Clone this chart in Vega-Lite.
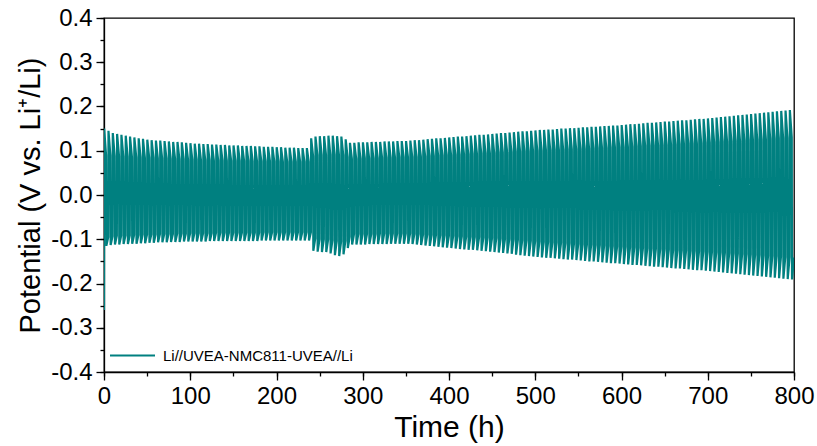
{
"$schema": "https://vega.github.io/schema/vega-lite/v6.json",
"width": 690,
"height": 354,
"autosize": "none",
"padding": {"left": 104, "top": 18, "right": 23, "bottom": 74},
"background": "white",
"config": {
  "font": "Liberation Sans",
  "view": {"stroke": "#000", "strokeWidth": 1.3},
  "axis": {"labelFont": "Liberation Sans", "titleFont": "Liberation Sans", "labelColor": "#000", "titleColor": "#000", "domainColor": "#000", "tickColor": "#000", "grid": false, "titleFontWeight": "normal", "domainWidth": 1.3, "tickWidth": 1.3}
},
"datasets": {
"pot": [
{"t":0,"v":-0.26},
{"t":0.2,"v":0.150},{"t":2.4,"v":0.090},{"t":2.7,"v":-0.115},{"t":4.9,"v":-0.095},
{"t":5.2,"v":0.145},{"t":7.4,"v":0.089},{"t":7.7,"v":-0.113},{"t":9.9,"v":-0.093},
{"t":10.2,"v":0.140},{"t":12.4,"v":0.088},{"t":12.7,"v":-0.112},{"t":14.9,"v":-0.092},
{"t":15.2,"v":0.138},{"t":17.4,"v":0.088},{"t":17.7,"v":-0.112},{"t":19.9,"v":-0.092},
{"t":20.2,"v":0.136},{"t":22.4,"v":0.087},{"t":22.7,"v":-0.111},{"t":24.9,"v":-0.091},
{"t":25.2,"v":0.134},{"t":27.4,"v":0.087},{"t":27.7,"v":-0.111},{"t":29.9,"v":-0.091},
{"t":30.2,"v":0.132},{"t":32.4,"v":0.086},{"t":32.7,"v":-0.110},{"t":34.9,"v":-0.090},
{"t":35.2,"v":0.130},{"t":37.4,"v":0.085},{"t":37.7,"v":-0.110},{"t":39.9,"v":-0.090},
{"t":40.2,"v":0.128},{"t":42.4,"v":0.085},{"t":42.7,"v":-0.109},{"t":44.9,"v":-0.089},
{"t":45.2,"v":0.127},{"t":47.4,"v":0.084},{"t":47.7,"v":-0.109},{"t":49.9,"v":-0.089},
{"t":50.2,"v":0.125},{"t":52.4,"v":0.084},{"t":52.7,"v":-0.108},{"t":54.9,"v":-0.089},
{"t":55.2,"v":0.124},{"t":57.4,"v":0.084},{"t":57.7,"v":-0.108},{"t":59.9,"v":-0.089},
{"t":60.2,"v":0.123},{"t":62.4,"v":0.083},{"t":62.7,"v":-0.107},{"t":64.9,"v":-0.088},
{"t":65.2,"v":0.123},{"t":67.4,"v":0.083},{"t":67.7,"v":-0.107},{"t":69.9,"v":-0.088},
{"t":70.2,"v":0.122},{"t":72.4,"v":0.083},{"t":72.7,"v":-0.107},{"t":74.9,"v":-0.088},
{"t":75.2,"v":0.121},{"t":77.4,"v":0.082},{"t":77.7,"v":-0.106},{"t":79.9,"v":-0.088},
{"t":80.2,"v":0.120},{"t":82.4,"v":0.082},{"t":82.7,"v":-0.106},{"t":84.9,"v":-0.087},
{"t":85.2,"v":0.120},{"t":87.4,"v":0.081},{"t":87.7,"v":-0.106},{"t":89.9,"v":-0.087},
{"t":90.2,"v":0.119},{"t":92.4,"v":0.081},{"t":92.7,"v":-0.105},{"t":94.9,"v":-0.087},
{"t":95.2,"v":0.118},{"t":97.4,"v":0.080},{"t":97.7,"v":-0.105},{"t":99.9,"v":-0.086},
{"t":100.2,"v":0.117},{"t":102.4,"v":0.080},{"t":102.7,"v":-0.105},{"t":104.9,"v":-0.086},
{"t":105.2,"v":0.116},{"t":107.4,"v":0.080},{"t":107.7,"v":-0.105},{"t":109.9,"v":-0.086},
{"t":110.2,"v":0.116},{"t":112.4,"v":0.079},{"t":112.7,"v":-0.105},{"t":114.9,"v":-0.086},
{"t":115.2,"v":0.115},{"t":117.4,"v":0.079},{"t":117.7,"v":-0.105},{"t":119.9,"v":-0.086},
{"t":120.2,"v":0.115},{"t":122.4,"v":0.079},{"t":122.7,"v":-0.104},{"t":124.9,"v":-0.086},
{"t":125.2,"v":0.114},{"t":127.4,"v":0.078},{"t":127.7,"v":-0.104},{"t":129.9,"v":-0.085},
{"t":130.2,"v":0.114},{"t":132.4,"v":0.078},{"t":132.7,"v":-0.104},{"t":134.9,"v":-0.085},
{"t":135.2,"v":0.113},{"t":137.4,"v":0.078},{"t":137.7,"v":-0.104},{"t":139.9,"v":-0.085},
{"t":140.2,"v":0.113},{"t":142.4,"v":0.077},{"t":142.7,"v":-0.104},{"t":144.9,"v":-0.085},
{"t":145.2,"v":0.112},{"t":147.4,"v":0.077},{"t":147.7,"v":-0.104},{"t":149.9,"v":-0.085},
{"t":150.2,"v":0.112},{"t":152.4,"v":0.077},{"t":152.7,"v":-0.104},{"t":154.9,"v":-0.085},
{"t":155.2,"v":0.112},{"t":157.4,"v":0.077},{"t":157.7,"v":-0.104},{"t":159.9,"v":-0.085},
{"t":160.2,"v":0.111},{"t":162.4,"v":0.077},{"t":162.7,"v":-0.104},{"t":164.9,"v":-0.085},
{"t":165.2,"v":0.111},{"t":167.4,"v":0.077},{"t":167.7,"v":-0.104},{"t":169.9,"v":-0.085},
{"t":170.2,"v":0.111},{"t":172.4,"v":0.076},{"t":172.7,"v":-0.104},{"t":174.9,"v":-0.085},
{"t":175.2,"v":0.110},{"t":177.4,"v":0.076},{"t":177.7,"v":-0.104},{"t":179.9,"v":-0.085},
{"t":180.2,"v":0.110},{"t":182.4,"v":0.076},{"t":182.7,"v":-0.103},{"t":184.9,"v":-0.084},
{"t":185.2,"v":0.109},{"t":187.4,"v":0.076},{"t":187.7,"v":-0.103},{"t":189.9,"v":-0.084},
{"t":190.2,"v":0.109},{"t":192.4,"v":0.076},{"t":192.7,"v":-0.103},{"t":194.9,"v":-0.084},
{"t":195.2,"v":0.109},{"t":197.4,"v":0.076},{"t":197.7,"v":-0.103},{"t":199.9,"v":-0.084},
{"t":200.2,"v":0.108},{"t":202.4,"v":0.076},{"t":202.7,"v":-0.103},{"t":204.9,"v":-0.084},
{"t":205.2,"v":0.108},{"t":207.4,"v":0.075},{"t":207.7,"v":-0.103},{"t":209.9,"v":-0.084},
{"t":210.2,"v":0.107},{"t":212.4,"v":0.075},{"t":212.7,"v":-0.103},{"t":214.9,"v":-0.084},
{"t":215.2,"v":0.107},{"t":217.4,"v":0.075},{"t":217.7,"v":-0.103},{"t":219.9,"v":-0.084},
{"t":220.2,"v":0.107},{"t":222.4,"v":0.075},{"t":222.7,"v":-0.103},{"t":224.9,"v":-0.084},
{"t":225.2,"v":0.106},{"t":227.4,"v":0.075},{"t":227.7,"v":-0.103},{"t":229.9,"v":-0.084},
{"t":230.2,"v":0.106},{"t":232.4,"v":0.075},{"t":232.7,"v":-0.103},{"t":234.9,"v":-0.084},
{"t":235.2,"v":0.106},{"t":237.4,"v":0.075},{"t":237.7,"v":-0.103},{"t":239.9,"v":-0.084},
{"t":240.2,"v":0.128},{"t":242.4,"v":0.088},{"t":242.7,"v":-0.126},{"t":244.9,"v":-0.098},
{"t":245.2,"v":0.132},{"t":247.4,"v":0.090},{"t":247.7,"v":-0.128},{"t":249.9,"v":-0.100},
{"t":250.2,"v":0.133},{"t":252.4,"v":0.090},{"t":252.7,"v":-0.129},{"t":254.9,"v":-0.100},
{"t":255.2,"v":0.133},{"t":257.4,"v":0.090},{"t":257.7,"v":-0.129},{"t":259.9,"v":-0.100},
{"t":260.2,"v":0.134},{"t":262.4,"v":0.091},{"t":262.7,"v":-0.132},{"t":264.9,"v":-0.102},
{"t":265.2,"v":0.134},{"t":267.4,"v":0.091},{"t":267.7,"v":-0.136},{"t":269.9,"v":-0.104},
{"t":270.2,"v":0.133},{"t":272.4,"v":0.090},{"t":272.7,"v":-0.138},{"t":274.9,"v":-0.105},
{"t":275.2,"v":0.132},{"t":277.4,"v":0.090},{"t":277.7,"v":-0.134},{"t":279.9,"v":-0.103},
{"t":280.2,"v":0.126},{"t":282.4,"v":0.086},{"t":282.7,"v":-0.120},{"t":284.9,"v":-0.094},
{"t":285.2,"v":0.118},{"t":287.4,"v":0.082},{"t":287.7,"v":-0.112},{"t":289.9,"v":-0.088},
{"t":290.2,"v":0.118},{"t":292.4,"v":0.082},{"t":292.7,"v":-0.112},{"t":294.9,"v":-0.088},
{"t":295.2,"v":0.119},{"t":297.4,"v":0.082},{"t":297.7,"v":-0.112},{"t":299.9,"v":-0.088},
{"t":300.2,"v":0.119},{"t":302.4,"v":0.083},{"t":302.7,"v":-0.112},{"t":304.9,"v":-0.088},
{"t":305.2,"v":0.119},{"t":307.4,"v":0.083},{"t":307.7,"v":-0.111},{"t":309.9,"v":-0.088},
{"t":310.2,"v":0.120},{"t":312.4,"v":0.083},{"t":312.7,"v":-0.111},{"t":314.9,"v":-0.088},
{"t":315.2,"v":0.120},{"t":317.4,"v":0.083},{"t":317.7,"v":-0.111},{"t":319.9,"v":-0.087},
{"t":320.2,"v":0.120},{"t":322.4,"v":0.084},{"t":322.7,"v":-0.111},{"t":324.9,"v":-0.087},
{"t":325.2,"v":0.121},{"t":327.4,"v":0.084},{"t":327.7,"v":-0.111},{"t":329.9,"v":-0.087},
{"t":330.2,"v":0.121},{"t":332.4,"v":0.084},{"t":332.7,"v":-0.110},{"t":334.9,"v":-0.087},
{"t":335.2,"v":0.121},{"t":337.4,"v":0.084},{"t":337.7,"v":-0.110},{"t":339.9,"v":-0.087},
{"t":340.2,"v":0.122},{"t":342.4,"v":0.085},{"t":342.7,"v":-0.110},{"t":344.9,"v":-0.087},
{"t":345.2,"v":0.122},{"t":347.4,"v":0.085},{"t":347.7,"v":-0.110},{"t":349.9,"v":-0.087},
{"t":350.2,"v":0.122},{"t":352.4,"v":0.085},{"t":352.7,"v":-0.110},{"t":354.9,"v":-0.087},
{"t":355.2,"v":0.123},{"t":357.4,"v":0.086},{"t":357.7,"v":-0.111},{"t":359.9,"v":-0.088},
{"t":360.2,"v":0.124},{"t":362.4,"v":0.086},{"t":362.7,"v":-0.112},{"t":364.9,"v":-0.088},
{"t":365.2,"v":0.124},{"t":367.4,"v":0.087},{"t":367.7,"v":-0.113},{"t":369.9,"v":-0.089},
{"t":370.2,"v":0.125},{"t":372.4,"v":0.087},{"t":372.7,"v":-0.114},{"t":374.9,"v":-0.089},
{"t":375.2,"v":0.126},{"t":377.4,"v":0.088},{"t":377.7,"v":-0.115},{"t":379.9,"v":-0.090},
{"t":380.2,"v":0.127},{"t":382.4,"v":0.088},{"t":382.7,"v":-0.116},{"t":384.9,"v":-0.090},
{"t":385.2,"v":0.128},{"t":387.4,"v":0.089},{"t":387.7,"v":-0.117},{"t":389.9,"v":-0.091},
{"t":390.2,"v":0.128},{"t":392.4,"v":0.089},{"t":392.7,"v":-0.118},{"t":394.9,"v":-0.091},
{"t":395.2,"v":0.129},{"t":397.4,"v":0.090},{"t":397.7,"v":-0.119},{"t":399.9,"v":-0.092},
{"t":400.2,"v":0.130},{"t":402.4,"v":0.090},{"t":402.7,"v":-0.120},{"t":404.9,"v":-0.092},
{"t":405.2,"v":0.131},{"t":407.4,"v":0.091},{"t":407.7,"v":-0.121},{"t":409.9,"v":-0.093},
{"t":410.2,"v":0.132},{"t":412.4,"v":0.091},{"t":412.7,"v":-0.122},{"t":414.9,"v":-0.093},
{"t":415.2,"v":0.132},{"t":417.4,"v":0.092},{"t":417.7,"v":-0.123},{"t":419.9,"v":-0.094},
{"t":420.2,"v":0.133},{"t":422.4,"v":0.092},{"t":422.7,"v":-0.124},{"t":424.9,"v":-0.094},
{"t":425.2,"v":0.134},{"t":427.4,"v":0.093},{"t":427.7,"v":-0.124},{"t":429.9,"v":-0.095},
{"t":430.2,"v":0.135},{"t":432.4,"v":0.093},{"t":432.7,"v":-0.125},{"t":434.9,"v":-0.095},
{"t":435.2,"v":0.136},{"t":437.4,"v":0.094},{"t":437.7,"v":-0.126},{"t":439.9,"v":-0.096},
{"t":440.2,"v":0.136},{"t":442.4,"v":0.094},{"t":442.7,"v":-0.127},{"t":444.9,"v":-0.096},
{"t":445.2,"v":0.137},{"t":447.4,"v":0.095},{"t":447.7,"v":-0.128},{"t":449.9,"v":-0.097},
{"t":450.2,"v":0.138},{"t":452.4,"v":0.095},{"t":452.7,"v":-0.129},{"t":454.9,"v":-0.097},
{"t":455.2,"v":0.139},{"t":457.4,"v":0.096},{"t":457.7,"v":-0.130},{"t":459.9,"v":-0.098},
{"t":460.2,"v":0.140},{"t":462.4,"v":0.096},{"t":462.7,"v":-0.131},{"t":464.9,"v":-0.099},
{"t":465.2,"v":0.140},{"t":467.4,"v":0.097},{"t":467.7,"v":-0.132},{"t":469.9,"v":-0.099},
{"t":470.2,"v":0.141},{"t":472.4,"v":0.097},{"t":472.7,"v":-0.133},{"t":474.9,"v":-0.100},
{"t":475.2,"v":0.142},{"t":477.4,"v":0.098},{"t":477.7,"v":-0.135},{"t":479.9,"v":-0.101},
{"t":480.2,"v":0.143},{"t":482.4,"v":0.098},{"t":482.7,"v":-0.136},{"t":484.9,"v":-0.102},
{"t":485.2,"v":0.144},{"t":487.4,"v":0.099},{"t":487.7,"v":-0.137},{"t":489.9,"v":-0.102},
{"t":490.2,"v":0.144},{"t":492.4,"v":0.099},{"t":492.7,"v":-0.138},{"t":494.9,"v":-0.103},
{"t":495.2,"v":0.145},{"t":497.4,"v":0.100},{"t":497.7,"v":-0.139},{"t":499.9,"v":-0.104},
{"t":500.2,"v":0.146},{"t":502.4,"v":0.100},{"t":502.7,"v":-0.140},{"t":504.9,"v":-0.105},
{"t":505.2,"v":0.147},{"t":507.4,"v":0.100},{"t":507.7,"v":-0.141},{"t":509.9,"v":-0.106},
{"t":510.2,"v":0.147},{"t":512.4,"v":0.101},{"t":512.7,"v":-0.142},{"t":514.9,"v":-0.106},
{"t":515.2,"v":0.148},{"t":517.4,"v":0.101},{"t":517.7,"v":-0.142},{"t":519.9,"v":-0.107},
{"t":520.2,"v":0.148},{"t":522.4,"v":0.102},{"t":522.7,"v":-0.143},{"t":524.9,"v":-0.107},
{"t":525.2,"v":0.149},{"t":527.4,"v":0.102},{"t":527.7,"v":-0.144},{"t":529.9,"v":-0.108},
{"t":530.2,"v":0.150},{"t":532.4,"v":0.102},{"t":532.7,"v":-0.145},{"t":534.9,"v":-0.109},
{"t":535.2,"v":0.150},{"t":537.4,"v":0.103},{"t":537.7,"v":-0.146},{"t":539.9,"v":-0.109},
{"t":540.2,"v":0.151},{"t":542.4,"v":0.103},{"t":542.7,"v":-0.146},{"t":544.9,"v":-0.110},
{"t":545.2,"v":0.151},{"t":547.4,"v":0.104},{"t":547.7,"v":-0.147},{"t":549.9,"v":-0.110},
{"t":550.2,"v":0.152},{"t":552.4,"v":0.104},{"t":552.7,"v":-0.148},{"t":554.9,"v":-0.111},
{"t":555.2,"v":0.153},{"t":557.4,"v":0.104},{"t":557.7,"v":-0.149},{"t":559.9,"v":-0.112},
{"t":560.2,"v":0.153},{"t":562.4,"v":0.105},{"t":562.7,"v":-0.150},{"t":564.9,"v":-0.112},
{"t":565.2,"v":0.154},{"t":567.4,"v":0.105},{"t":567.7,"v":-0.150},{"t":569.9,"v":-0.113},
{"t":570.2,"v":0.154},{"t":572.4,"v":0.106},{"t":572.7,"v":-0.151},{"t":574.9,"v":-0.113},
{"t":575.2,"v":0.155},{"t":577.4,"v":0.106},{"t":577.7,"v":-0.152},{"t":579.9,"v":-0.114},
{"t":580.2,"v":0.156},{"t":582.4,"v":0.106},{"t":582.7,"v":-0.153},{"t":584.9,"v":-0.115},
{"t":585.2,"v":0.156},{"t":587.4,"v":0.107},{"t":587.7,"v":-0.154},{"t":589.9,"v":-0.115},
{"t":590.2,"v":0.157},{"t":592.4,"v":0.107},{"t":592.7,"v":-0.154},{"t":594.9,"v":-0.116},
{"t":595.2,"v":0.157},{"t":597.4,"v":0.108},{"t":597.7,"v":-0.155},{"t":599.9,"v":-0.116},
{"t":600.2,"v":0.158},{"t":602.4,"v":0.108},{"t":602.7,"v":-0.156},{"t":604.9,"v":-0.117},
{"t":605.2,"v":0.159},{"t":607.4,"v":0.109},{"t":607.7,"v":-0.157},{"t":609.9,"v":-0.118},
{"t":610.2,"v":0.160},{"t":612.4,"v":0.109},{"t":612.7,"v":-0.158},{"t":614.9,"v":-0.118},
{"t":615.2,"v":0.160},{"t":617.4,"v":0.110},{"t":617.7,"v":-0.158},{"t":619.9,"v":-0.119},
{"t":620.2,"v":0.161},{"t":622.4,"v":0.110},{"t":622.7,"v":-0.159},{"t":624.9,"v":-0.119},
{"t":625.2,"v":0.162},{"t":627.4,"v":0.111},{"t":627.7,"v":-0.160},{"t":629.9,"v":-0.120},
{"t":630.2,"v":0.163},{"t":632.4,"v":0.111},{"t":632.7,"v":-0.161},{"t":634.9,"v":-0.121},
{"t":635.2,"v":0.163},{"t":637.4,"v":0.112},{"t":637.7,"v":-0.162},{"t":639.9,"v":-0.121},
{"t":640.2,"v":0.164},{"t":642.4,"v":0.112},{"t":642.7,"v":-0.162},{"t":644.9,"v":-0.122},
{"t":645.2,"v":0.165},{"t":647.4,"v":0.113},{"t":647.7,"v":-0.163},{"t":649.9,"v":-0.122},
{"t":650.2,"v":0.166},{"t":652.4,"v":0.113},{"t":652.7,"v":-0.164},{"t":654.9,"v":-0.123},
{"t":655.2,"v":0.166},{"t":657.4,"v":0.114},{"t":657.7,"v":-0.165},{"t":659.9,"v":-0.124},
{"t":660.2,"v":0.167},{"t":662.4,"v":0.114},{"t":662.7,"v":-0.166},{"t":664.9,"v":-0.124},
{"t":665.2,"v":0.168},{"t":667.4,"v":0.115},{"t":667.7,"v":-0.166},{"t":669.9,"v":-0.125},
{"t":670.2,"v":0.169},{"t":672.4,"v":0.115},{"t":672.7,"v":-0.167},{"t":674.9,"v":-0.125},
{"t":675.2,"v":0.169},{"t":677.4,"v":0.116},{"t":677.7,"v":-0.168},{"t":679.9,"v":-0.126},
{"t":680.2,"v":0.170},{"t":682.4,"v":0.116},{"t":682.7,"v":-0.169},{"t":684.9,"v":-0.126},
{"t":685.2,"v":0.171},{"t":687.4,"v":0.117},{"t":687.7,"v":-0.170},{"t":689.9,"v":-0.127},
{"t":690.2,"v":0.172},{"t":692.4,"v":0.117},{"t":692.7,"v":-0.170},{"t":694.9,"v":-0.127},
{"t":695.2,"v":0.172},{"t":697.4,"v":0.118},{"t":697.7,"v":-0.171},{"t":699.9,"v":-0.128},
{"t":700.2,"v":0.173},{"t":702.4,"v":0.118},{"t":702.7,"v":-0.172},{"t":704.9,"v":-0.128},
{"t":705.2,"v":0.174},{"t":707.4,"v":0.119},{"t":707.7,"v":-0.173},{"t":709.9,"v":-0.129},
{"t":710.2,"v":0.175},{"t":712.4,"v":0.119},{"t":712.7,"v":-0.174},{"t":714.9,"v":-0.129},
{"t":715.2,"v":0.176},{"t":717.4,"v":0.120},{"t":717.7,"v":-0.175},{"t":719.9,"v":-0.130},
{"t":720.2,"v":0.177},{"t":722.4,"v":0.120},{"t":722.7,"v":-0.176},{"t":724.9,"v":-0.131},
{"t":725.2,"v":0.178},{"t":727.4,"v":0.121},{"t":727.7,"v":-0.177},{"t":729.9,"v":-0.131},
{"t":730.2,"v":0.179},{"t":732.4,"v":0.122},{"t":732.7,"v":-0.178},{"t":734.9,"v":-0.132},
{"t":735.2,"v":0.180},{"t":737.4,"v":0.122},{"t":737.7,"v":-0.179},{"t":739.9,"v":-0.133},
{"t":740.2,"v":0.181},{"t":742.4,"v":0.123},{"t":742.7,"v":-0.180},{"t":744.9,"v":-0.133},
{"t":745.2,"v":0.182},{"t":747.4,"v":0.124},{"t":747.7,"v":-0.181},{"t":749.9,"v":-0.134},
{"t":750.2,"v":0.183},{"t":752.4,"v":0.124},{"t":752.7,"v":-0.182},{"t":754.9,"v":-0.135},
{"t":755.2,"v":0.184},{"t":757.4,"v":0.125},{"t":757.7,"v":-0.183},{"t":759.9,"v":-0.135},
{"t":760.2,"v":0.185},{"t":762.4,"v":0.125},{"t":762.7,"v":-0.184},{"t":764.9,"v":-0.136},
{"t":765.2,"v":0.186},{"t":767.4,"v":0.126},{"t":767.7,"v":-0.185},{"t":769.9,"v":-0.137},
{"t":770.2,"v":0.187},{"t":772.4,"v":0.127},{"t":772.7,"v":-0.186},{"t":774.9,"v":-0.137},
{"t":775.2,"v":0.188},{"t":777.4,"v":0.127},{"t":777.7,"v":-0.187},{"t":779.9,"v":-0.138},
{"t":780.2,"v":0.189},{"t":782.4,"v":0.128},{"t":782.7,"v":-0.188},{"t":784.9,"v":-0.139},
{"t":785.2,"v":0.190},{"t":787.4,"v":0.129},{"t":787.7,"v":-0.189},{"t":789.9,"v":-0.140},
{"t":790.2,"v":0.191},{"t":792.4,"v":0.129},{"t":792.7,"v":-0.190},{"t":794.9,"v":-0.140},
{"t":795.2,"v":0.192},{"t":797.4,"v":0.130},{"t":797.7,"v":-0.191},{"t":799.9,"v":-0.141}
]
},
"data": {"name": "pot"},
"layer": [
  {
    "mark": {"type": "line", "strokeWidth": 2.2, "clip": true},
    "encoding": {
      "x": {"field": "t", "type": "quantitative", "scale": {"domain": [0, 800], "nice": false, "zero": false},
        "axis": {"orient": "bottom", "values": [0,100,200,300,400,500,600,700,800], "tickSize": 8, "labelFontSize": 24, "labelPadding": 4, "labelFlush": false, "labelOverlap": false, "format": "d", "title": "Time (h)", "titleFontSize": 30, "titlePadding": 4}},
      "y": {"field": "v", "type": "quantitative", "scale": {"domain": [-0.4, 0.4], "nice": false},
        "axis": {"orient": "left", "values": [-0.4,-0.3,-0.2,-0.1,0,0.1,0.2,0.3,0.4], "tickSize": 8, "labelFontSize": 24, "labelPadding": 4, "labelOverlap": false, "labelExpr": "replace(format(datum.value, '.1f'), '\u2212', '-')", "title": "Potential (V vs. Li\u207a/Li)", "titleFontSize": 29, "titlePadding": 5}},
      "color": {"datum": "Li//UVEA-NMC811-UVEA//Li", "type": "nominal", "scale": {"range": ["#008080"]},
        "legend": {"orient": "none", "legendX": 5, "legendY": 314, "title": null, "symbolType": "stroke", "symbolSize": 2025, "symbolStrokeWidth": 1.8, "labelFontSize": 15, "labelFont": "Liberation Sans", "labelColor": "#000", "labelOffset": 7, "labelLimit": 0, "padding": 0}}
    }
  },
  {
    "data": {"values": [{"k": 0}]},
    "mark": {"type": "point", "opacity": 0},
    "encoding": {
      "x": {"datum": 0, "type": "quantitative", "scale": {"domain": [0, 800], "nice": false, "zero": false},
        "axis": {"orient": "bottom", "values": [0,50,100,150,200,250,300,350,400,450,500,550,600,650,700,750,800], "tickSize": 4, "labels": false, "domain": false, "title": null}},
      "y": {"datum": 0, "type": "quantitative", "scale": {"domain": [-0.4, 0.4], "nice": false},
        "axis": {"orient": "left", "values": [-0.4,-0.35,-0.3,-0.25,-0.2,-0.15,-0.1,-0.05,0,0.05,0.1,0.15,0.2,0.25,0.3,0.35,0.4], "tickSize": 4, "labels": false, "domain": false, "title": null}}
    }
  }
],
"resolve": {"axis": {"x": "independent", "y": "independent"}}
}
